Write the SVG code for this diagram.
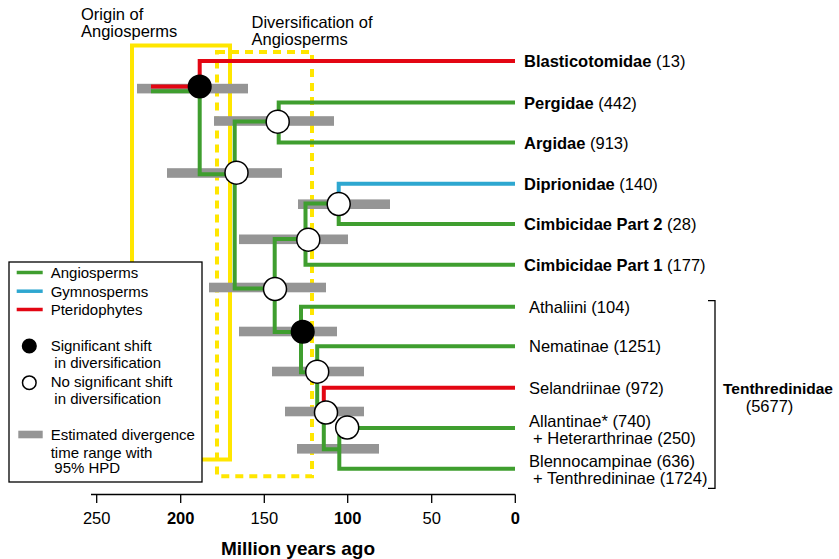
<svg xmlns="http://www.w3.org/2000/svg" width="839" height="559" viewBox="0 0 839 559">
<style>
text{font-family:"Liberation Sans",Arial,Helvetica,sans-serif;fill:#000}
.lbl{font-size:16.5px}
.b{font-weight:bold}
.leg{font-size:15px}
.g{fill:none;stroke:#3f9e2f;stroke-width:4}
.r{fill:none;stroke:#e30613;stroke-width:4}
.bl{fill:none;stroke:#2ea7d0;stroke-width:4}
.bar{fill:#959595}
.open{fill:#fff;stroke:#000;stroke-width:1.5}
.filled{fill:#000;stroke:#000;stroke-width:1.5}
.ys{fill:none;stroke:#ffe600;stroke-width:4}
.yd{fill:none;stroke:#ffe600;stroke-width:4;stroke-dasharray:8 6}
.ax{fill:none;stroke:#000;stroke-width:1.3}
</style>
<rect width="839" height="559" fill="#fff"/>

<g id="periods">
  <rect class="ys" x="132" y="45.5" width="98" height="414"/>
  <rect class="yd" x="217" y="52" width="95" height="424.3"/>
  <text class="lbl" x="81" y="20">Origin of</text>
  <text class="lbl" x="81" y="36.5">Angiosperms</text>
  <text class="lbl" x="251.5" y="28">Diversification of</text>
  <text class="lbl" x="251.5" y="44.5">Angiosperms</text>
</g>

<g id="hpd-bars">
  <rect class="bar" x="137" y="83.8" width="111" height="9.6"/>
  <rect class="bar" x="214" y="116.2" width="120" height="9.6"/>
  <rect class="bar" x="167" y="168.2" width="115" height="9.6"/>
  <rect class="bar" x="298" y="199.4" width="92" height="9.6"/>
  <rect class="bar" x="239" y="234.5" width="109" height="9.6"/>
  <rect class="bar" x="209" y="282.7" width="117" height="9.6"/>
  <rect class="bar" x="239" y="326.7" width="98" height="9.6"/>
  <rect class="bar" x="272" y="366.7" width="92" height="9.6"/>
  <rect class="bar" x="285" y="406.7" width="79" height="9.6"/>
  <rect class="bar" x="297" y="444" width="82" height="9.6"/>
</g>

<g id="connectors">
  <path class="r" d="M151,86.5 H199.7 V61 H515"/>
  <path class="g" d="M151,91.3 H199.7 V174.3 H236.5"/>
  <path class="g" d="M277.7,121.5 H234.7 V288.5 H275"/>
  <path class="g" d="M515,102.5 H278.7 V142.5 H515"/>
  <path class="g" d="M308.3,239 H274.7 V332 H302.7"/>
  <path class="g" d="M338.7,203.5 H305.5 V264.7 H515"/>
  <path class="bl" d="M338.7,204 V183.7 H515"/>
  <path class="g" d="M338.7,204 V224 H515"/>
  <path class="g" d="M515,306.8 H301 V372.3 H317"/>
  <path class="g" d="M515,346.3 H317.2 V411.5 H326"/>
  <path class="r" d="M515,387.7 H323.8 V412.5"/>
  <path class="g" d="M323.8,412.5 V449.3 H339.3"/>
  <path class="g" d="M515,428 H339.3 V468.7 H515"/>
</g>

<g id="node-root"><circle class="filled" cx="199.7" cy="86.5" r="11.3"/></g>
<g id="node-pergidae-argidae"><circle class="open" cx="277.7" cy="121.7" r="11.5"/></g>
<g id="node-3"><circle class="open" cx="236.5" cy="172.7" r="11.5"/></g>
<g id="node-diprionidae-cimbicidae2"><circle class="open" cx="338.7" cy="204" r="11.5"/></g>
<g id="node-cimbicidae"><circle class="open" cx="308.3" cy="239.7" r="11.5"/></g>
<g id="node-5"><circle class="open" cx="275" cy="289" r="11.5"/></g>
<g id="node-tenthredinidae"><circle class="filled" cx="302.7" cy="331.7" r="11.3"/></g>
<g id="node-7"><circle class="open" cx="317.2" cy="371.7" r="11.5"/></g>
<g id="node-8"><circle class="open" cx="326" cy="412.5" r="11.5"/></g>
<g id="node-9"><circle class="open" cx="347.2" cy="427.5" r="11.5"/></g>

<g id="leaf-labels" class="lbl">
  <text x="524" y="67"><tspan class="b">Blasticotomidae</tspan> (13)</text>
  <text x="524" y="108.5"><tspan class="b">Pergidae</tspan> (442)</text>
  <text x="524" y="148.5"><tspan class="b">Argidae</tspan> (913)</text>
  <text x="524" y="189.7"><tspan class="b">Diprionidae</tspan> (140)</text>
  <text x="524" y="230"><tspan class="b">Cimbicidae Part 2</tspan> (28)</text>
  <text x="524" y="270.7"><tspan class="b">Cimbicidae Part 1</tspan> (177)</text>
  <text x="529" y="312.8">Athaliini (104)</text>
  <text x="529" y="352.3">Nematinae (1251)</text>
  <text x="529" y="393.5">Selandriinae (972)</text>
  <text x="529" y="426.5">Allantinae* (740)</text>
  <text x="533" y="443.5">+ Heterarthrinae (250)</text>
  <text x="529" y="467">Blennocampinae (636)</text>
  <text x="533" y="484">+ Tenthredininae (1724)</text>
</g>

<g id="tenthredinidae-bracket">
  <path class="ax" d="M708,300.7 H715 V488.3 H708"/>
  <text class="b" x="723" y="393.5" font-size="15.5">Tenthredinidae</text>
  <text class="lbl" x="769.5" y="412" text-anchor="middle">(5677)</text>
</g>

<g id="legend">
  <rect x="9" y="262" width="193" height="220" fill="#fff" stroke="#000" stroke-width="1.3"/>
  <line x1="16.7" y1="272.5" x2="42.7" y2="272.5" class="g" style="stroke-width:3.5"/>
  <line x1="16.7" y1="291.2" x2="42.7" y2="291.2" class="bl" style="stroke-width:3.5"/>
  <line x1="16.7" y1="309.5" x2="42.7" y2="309.5" class="r" style="stroke-width:3.5"/>
  <text class="leg" x="50.7" y="278">Angiosperms</text>
  <text class="leg" x="50.7" y="296.7">Gymnosperms</text>
  <text class="leg" x="50.7" y="315">Pteridophytes</text>
  <circle class="filled" cx="29.3" cy="346" r="6.8"/>
  <text class="leg" x="50.7" y="350.7">Significant shift</text>
  <text class="leg" x="54.3" y="368.3">in diversification</text>
  <circle class="open" cx="29.3" cy="382.7" r="6.8"/>
  <text class="leg" x="50.7" y="386.7">No significant shift</text>
  <text class="leg" x="54.3" y="404">in diversification</text>
  <rect class="bar" x="18.3" y="430.7" width="24.4" height="7.6"/>
  <text class="leg" x="50.7" y="440">Estimated divergence</text>
  <text class="leg" x="50.7" y="457.7">time range with</text>
  <text class="leg" x="54.3" y="473.3">95% HPD</text>
</g>

<g id="axis">
  <path class="ax" d="M91,494.5 H515.3 M96.7,494.5 V503 M180.7,494.5 V503 M264.3,494.5 V503 M347.7,494.5 V503 M431.7,494.5 V503 M515.3,494.5 V503"/>
  <g class="lbl" text-anchor="middle">
    <text x="96.7" y="524.3">250</text>
    <text x="180.7" y="524.3" class="b">200</text>
    <text x="264.3" y="524.3">150</text>
    <text x="347.7" y="524.3" class="b">100</text>
    <text x="431.7" y="524.3">50</text>
    <text x="515.3" y="524.3" class="b">0</text>
  </g>
  <text x="298" y="555" text-anchor="middle" font-size="19" font-weight="bold">Million years ago</text>
</g>
</svg>
